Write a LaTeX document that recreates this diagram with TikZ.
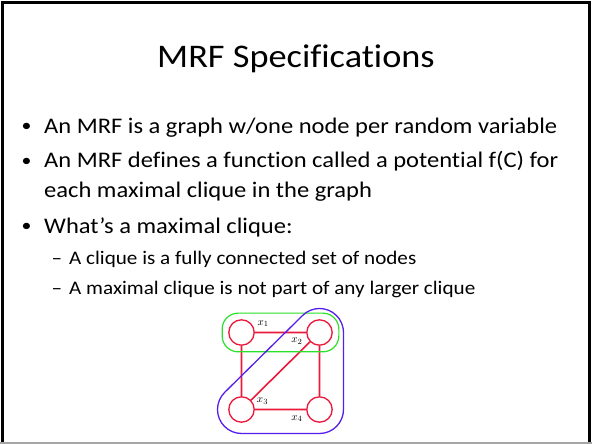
\documentclass[tikz,border=0pt]{standalone}
\usepackage{fontspec}
\setmainfont{Carlito}[Ligatures=NoCommon, FakeStretch=1.1]
\usepackage{tikz}
\usetikzlibrary{positioning, fit}

\definecolor{edgered}{RGB}{235,25,60}
\definecolor{cliquegreen}{RGB}{40,225,40}
\definecolor{cliqueblue}{RGB}{85,30,235}

\begin{document}
\begin{tikzpicture}[x=1pt, y=1pt,
    titletxt/.style={font=\fontsize{33}{40}\selectfont, inner sep=0pt, anchor=base},
    bodytxt/.style={font=\fontsize{22.3}{30}\selectfont, inner sep=0pt, anchor=base west},
    subtxt/.style={font=\fontsize{19.2}{24}\selectfont, inner sep=0pt, anchor=base west},
    dot/.style={font=\fontsize{18}{24}\selectfont, inner sep=0pt, anchor=base west},
    var/.style={circle, draw=edgered, line width=1.3pt, minimum size=25.4pt, inner sep=0pt},
    varlbl/.style={font=\fontsize{11}{13}\selectfont, inner sep=0pt},
    conn/.style={color=edgered, line width=1.6pt, line cap=round}]
\useasboundingbox (0,0) rectangle (592,444);
% Slide frame
\draw[line width=2.5pt] (2.5,1.5) -- (2.5,441.5) -- (589.5,441.5) -- (589.5,1.5);
\draw[gray!70, line width=1.5pt] (0,0.8) -- (592,0.8);
% Title
\node[titletxt] (title) at (296,376) {MRF Specifications};
% Bullets
\foreach \n/\y in {d1/312, d2/277.8, d3/212}
    \node[dot] (\n) at (21.5,\y) {•};
\node[bodytxt] (b1) at (44,310.7) {An MRF is a graph w/one node per random variable};
\node[bodytxt] (b2) at (44,276.5) {An MRF defines a function called a potential f(C) for};
\node[bodytxt] (b2c) at (44,246.7) {each maximal clique in the graph};
\node[bodytxt] (b3) at (44,210.7) {What’s a maximal clique:};
% Sub-bullets
\foreach \n/\y in {e1/179, e2/149.7}
    \node[subtxt] (\n) at (51.5,\y) {–};
\node[subtxt] (s1) at (69,179) {A clique is a fully connected set of nodes};
\node[subtxt] (s2) at (69,149.7) {A maximal clique is not part of any larger clique};
% Graph
\node[var] (x1) at (241.5,111.5) {};
\node[var] (x2) at (319.5,111.5) {};
\node[var] (x3) at (241.5,34.5) {};
\node[var] (x4) at (319.5,34.5) {};
\node[varlbl] (x1l) at ([shift={(21.6,9)}]x1.center) {$x_1$};
\node[varlbl] (x2l) at ([shift={(-22.6,-8.7)}]x2.center) {$x_2$};
\node[varlbl] (x3l) at ([shift={(21,8.3)}]x3.center) {$x_3$};
\node[varlbl] (x4l) at ([shift={(-22.6,-9)}]x4.center) {$x_4$};
\draw[conn] (x1) -- (x2) (x1) -- (x3) (x2) -- (x4) (x3) -- (x4) (x2) -- (x3);
% Maximal cliques
\node[fit=(x1)(x2), inner sep=6pt, draw=cliquegreen, line width=1.2pt, rounded corners=16pt] (c12) {};
\draw[cliqueblue, line width=1.3pt]
    ([shift={(135:24pt)}]x2.center) arc[start angle=135, end angle=0, radius=24pt]
    -- ([shift={(0:24pt)}]x4.center) arc[start angle=0, end angle=-90, radius=24pt]
    -- ([shift={(-90:24pt)}]x3.center) arc[start angle=-90, end angle=-225, radius=24pt]
    -- cycle;
\end{tikzpicture}
\end{document}
